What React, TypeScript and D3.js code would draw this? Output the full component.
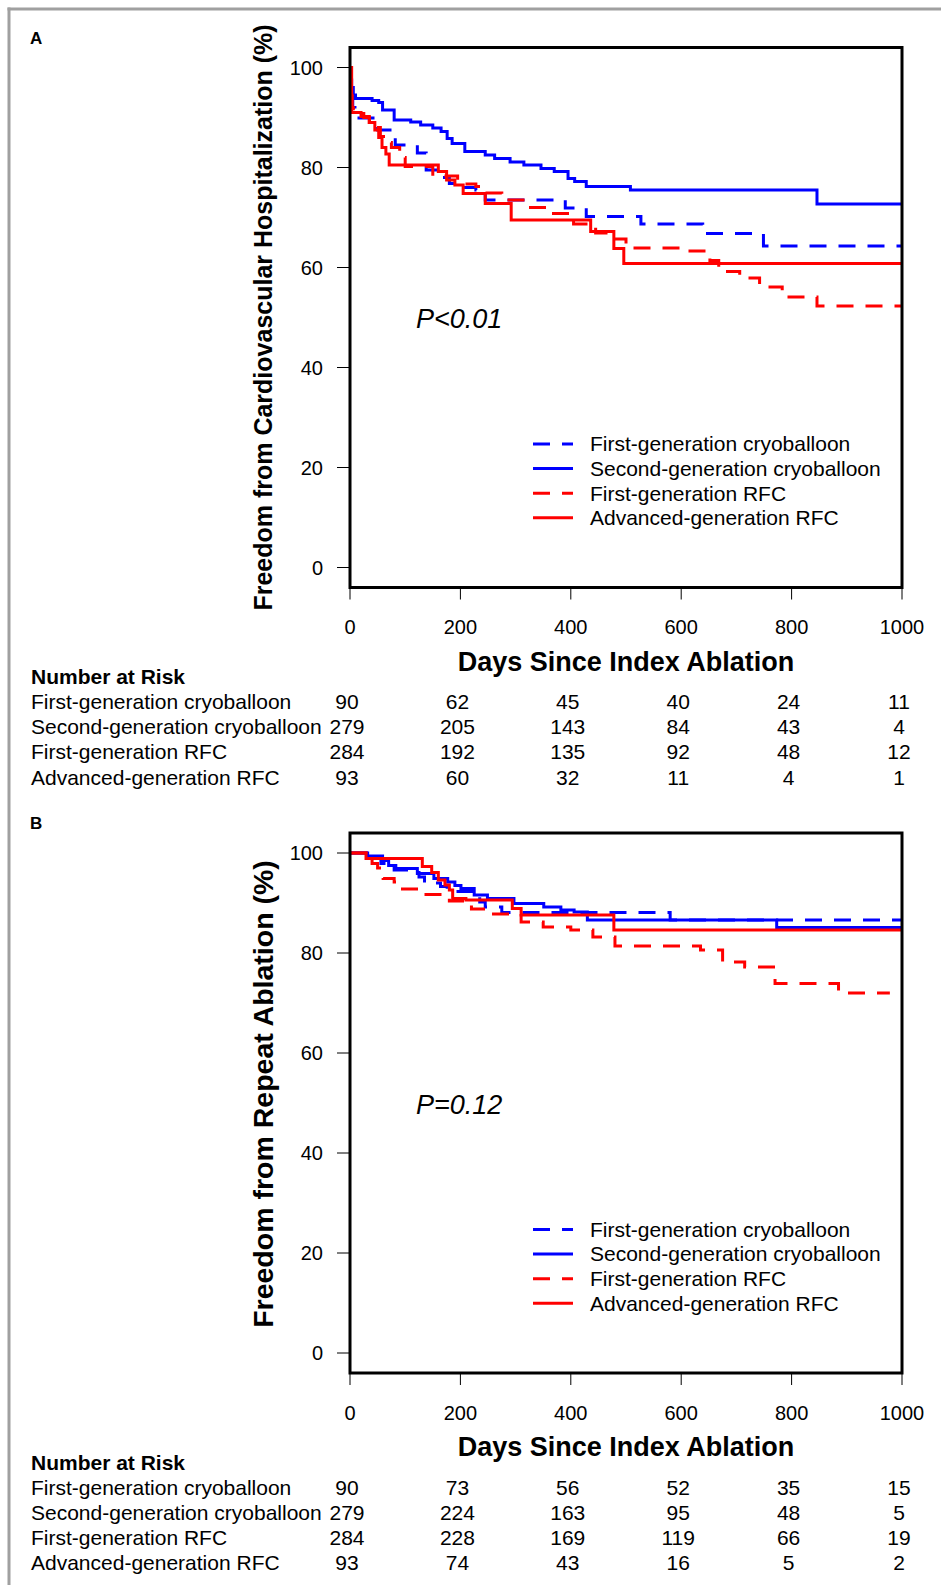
import React from "react";
import * as d3 from "d3";

// ---------- data ----------
const groupNames = [
  "First-generation cryoballoon",
  "Second-generation cryoballoon",
  "First-generation RFC",
  "Advanced-generation RFC",
];
const groupColors = ["#0000FF", "#0000FF", "#FF0000", "#FF0000"];
const groupDashed = [true, false, true, false];

const xTicks = [0, 200, 400, 600, 800, 1000];
const yTicks = [0, 20, 40, 60, 80, 100];

// Panel A: freedom from cardiovascular hospitalization  [day, %]
const a1stCryo: [number, number][] = [
  [0, 100], [2, 95], [5, 92], [9, 89.9], [50, 87.5], [82, 84.5], [122, 82.9], [138, 79.5],
  [165, 78], [180, 76.8], [200, 76], [228, 75.5], [245, 73.5], [390, 71.9], [428, 70.2],
  [527, 68.7], [639, 66.8], [749, 64.3], [1000, 64.3],
];
const a2ndCryo: [number, number][] = [
  [0, 100], [1, 97.5], [3, 96], [6, 94.5], [10, 93.8], [40, 93.4], [52, 93], [59, 91.5],
  [80, 89.5], [110, 89.1], [128, 88.5], [150, 87.9], [165, 87.2], [176, 85.8], [185, 84.8],
  [208, 83.2], [245, 82.5], [262, 81.8], [290, 81.1], [315, 80.5], [346, 79.8], [370, 79.2],
  [395, 77.8], [407, 77.2], [428, 76.2], [508, 75.5], [846, 72.7], [1000, 72.7],
];
const a1stRfc: [number, number][] = [
  [0, 100], [2, 95], [4, 92], [6, 90.8], [25, 90], [35, 89], [45, 88], [55, 86.2],
  [65, 85], [75, 84], [90, 82], [100, 80.2], [150, 78.3], [195, 76.7], [228, 76.2],
  [245, 74.9], [275, 73.5], [320, 72], [360, 70.8], [405, 68.7], [445, 66.9], [470, 65.7],
  [500, 63.9], [600, 63.3], [652, 61.4], [668, 59.2], [706, 57.9], [742, 56.1], [783, 54.1],
  [846, 52.3], [1000, 52.3],
];
const aAdvRfc: [number, number][] = [
  [0, 100], [3, 91], [20, 90.2], [35, 89], [45, 87.5], [52, 86], [58, 84], [65, 82.7],
  [71, 80.5], [160, 79.2], [175, 77.5], [190, 76.5], [205, 74.8], [245, 72.8], [292, 69.5],
  [436, 67.2], [478, 63.8], [496, 60.8], [1000, 60.8],
];

// Panel B: freedom from repeat ablation  [day, %]
const b1stCryo: [number, number][] = [
  [0, 100], [30, 99], [56, 97.9], [80, 96.6], [125, 95.2], [135, 94], [164, 93.3],
  [176, 92.3], [235, 90.2], [245, 89.2], [275, 88.1], [580, 86.6], [1000, 86.6],
];
const b2ndCryo: [number, number][] = [
  [0, 100], [32, 99.4], [59, 98.5], [70, 97.5], [83, 96.9], [122, 95.9], [152, 94.9],
  [177, 94.2], [190, 93.5], [201, 92.9], [225, 91.6], [249, 90.9], [297, 89.9], [351, 89.2],
  [382, 88.6], [406, 88.2], [430, 86.6], [773, 85.1], [1000, 85.1],
];
const b1stRfc: [number, number][] = [
  [0, 100], [29, 99.2], [40, 97.9], [50, 97], [60, 94.9], [80, 94.2], [90, 92.8],
  [125, 91.7], [180, 90.4], [220, 88.8], [260, 87.8], [310, 86.2], [350, 85.2], [400, 84.6],
  [440, 83.2], [480, 81.4], [635, 80.6], [675, 78.2], [715, 77.2], [770, 73.9], [885, 72],
  [978, 72],
];
const bAdvRfc: [number, number][] = [
  [0, 100], [29, 98.9], [131, 97.3], [148, 96.1], [160, 94.6], [172, 93.6], [180, 92.6],
  [186, 90.9], [210, 90.6], [294, 88.9], [310, 87.6], [478, 84.6], [1000, 84.6],
];

// Number at risk
const riskA = [
  [90, 62, 45, 40, 24, 11],
  [279, 205, 143, 84, 43, 4],
  [284, 192, 135, 92, 48, 12],
  [93, 60, 32, 11, 4, 1],
];
const riskB = [
  [90, 73, 56, 52, 35, 15],
  [279, 224, 163, 95, 48, 5],
  [284, 228, 169, 119, 66, 19],
  [93, 74, 43, 16, 5, 2],
];

const FONT = "'Liberation Sans', Arial, Helvetica, sans-serif";

type PanelProps = {
  dy: number;
  label: string;
  yTitle: string;
  yTitleSize: number;
  yTitleShift: number;
  pText: string;
  curves: [number, number][][];
  risk: number[][];
};

function Panel({ dy, label, yTitle, yTitleSize, yTitleShift, pText, curves, risk }: PanelProps) {
  const x = d3.scaleLinear().domain([0, 1000]).range([350, 902]);
  const y = d3.scaleLinear().domain([-4, 104]).range([587.5 + dy, 47.5 + dy]);
  const line = d3
    .line<[number, number]>()
    .x((d) => x(d[0]))
    .y((d) => y(d[1]))
    .curve(d3.curveStepAfter);
  const top = y(104);
  const bottom = y(-4);
  const legendY0 = 444 + dy;
  const legendStep = 24.6;
  const tableY0 = 701.7 + dy;
  const tableStep = 25.2;

  return (
    <g fontFamily={FONT}>
      <text x={30} y={43.5 + dy} fontSize={17} fontWeight="bold">{label}</text>

      {/* curves */}
      {curves.map((c, i) => (
        <path
          key={i}
          d={line(c) || ""}
          fill="none"
          stroke={groupColors[i]}
          strokeWidth={3}
          strokeDasharray={groupDashed[i] ? "17 12" : undefined}
        />
      ))}

      {/* box */}
      <rect x={x(0)} y={top} width={x(1000) - x(0)} height={bottom - top}
        fill="none" stroke="#000" strokeWidth={3} />

      {/* y axis */}
      {yTicks.map((t) => (
        <g key={t}>
          <line x1={337} x2={x(0)} y1={y(t)} y2={y(t)} stroke="#000" strokeWidth={1} />
          <text x={323} y={y(t)} dy="0.35em" textAnchor="end" fontSize={20}>{t}</text>
        </g>
      ))}
      {/* x axis */}
      {xTicks.map((t) => (
        <g key={t}>
          <line x1={x(t)} x2={x(t)} y1={bottom} y2={bottom + 12} stroke="#000" strokeWidth={1} />
          <text x={x(t)} y={627 + dy} dy="0.35em" textAnchor="middle" fontSize={20}>{t}</text>
        </g>
      ))}

      {/* titles */}
      <text x={(x(0) + x(1000)) / 2} y={661.5 + dy} dy="0.35em" textAnchor="middle"
        fontSize={27} fontWeight="bold">Days Since Index Ablation</text>
      <text transform={`translate(263,${(top + bottom) / 2 + yTitleShift}) rotate(-90)`} dy="0.35em"
        textAnchor="middle" fontSize={yTitleSize} fontWeight="bold">{yTitle}</text>

      {/* p value */}
      <text x={416} y={319 + dy} dy="0.35em" fontSize={27} fontStyle="italic">{pText}</text>

      {/* legend */}
      {groupNames.map((n, i) => (
        <g key={n}>
          <line x1={533} x2={573} y1={legendY0 + i * legendStep} y2={legendY0 + i * legendStep}
            stroke={groupColors[i]} strokeWidth={3}
            strokeDasharray={groupDashed[i] ? "17 12" : undefined} />
          <text x={590} y={legendY0 + i * legendStep} dy="0.35em" fontSize={21}>{n}</text>
        </g>
      ))}

      {/* number at risk */}
      <text x={31} y={676.7 + dy} dy="0.35em" fontSize={21} fontWeight="bold">Number at Risk</text>
      {groupNames.map((n, i) => (
        <g key={n}>
          <text x={31} y={tableY0 + i * tableStep} dy="0.35em" fontSize={21}>{n}</text>
          {risk[i].map((v, j) => (
            <text key={j} x={x(xTicks[j]) - 3} y={tableY0 + i * tableStep} dy="0.35em"
              textAnchor="middle" fontSize={21}>{v}</text>
          ))}
        </g>
      ))}
    </g>
  );
}

export default function App() {
  return (
    <div style={{ position: "absolute", left: 0, top: 0 }}>
      <svg width={941} height={1585} viewBox="0 0 941 1585" style={{ display: "block" }}>
        <rect x={0} y={0} width={941} height={1585} fill="#fff" />
        <line x1={7.5} x2={941} y1={9} y2={9} stroke="#a0a0a0" strokeWidth={3} />
        <line x1={9} x2={9} y1={7.5} y2={1585} stroke="#a0a0a0" strokeWidth={3} />
        <Panel dy={0} label="A" yTitle="Freedom from Cardiovascular Hospitalization (%)"
          yTitleSize={25} yTitleShift={0}
          pText="P<0.01" curves={[a1stCryo, a2ndCryo, a1stRfc, aAdvRfc]} risk={riskA} />
        <Panel dy={785.5} label="B" yTitle="Freedom from Repeat Ablation (%)"
          yTitleSize={28.5} yTitleShift={-9}
          pText="P=0.12" curves={[b1stCryo, b2ndCryo, b1stRfc, bAdvRfc]} risk={riskB} />
      </svg>
    </div>
  );
}
